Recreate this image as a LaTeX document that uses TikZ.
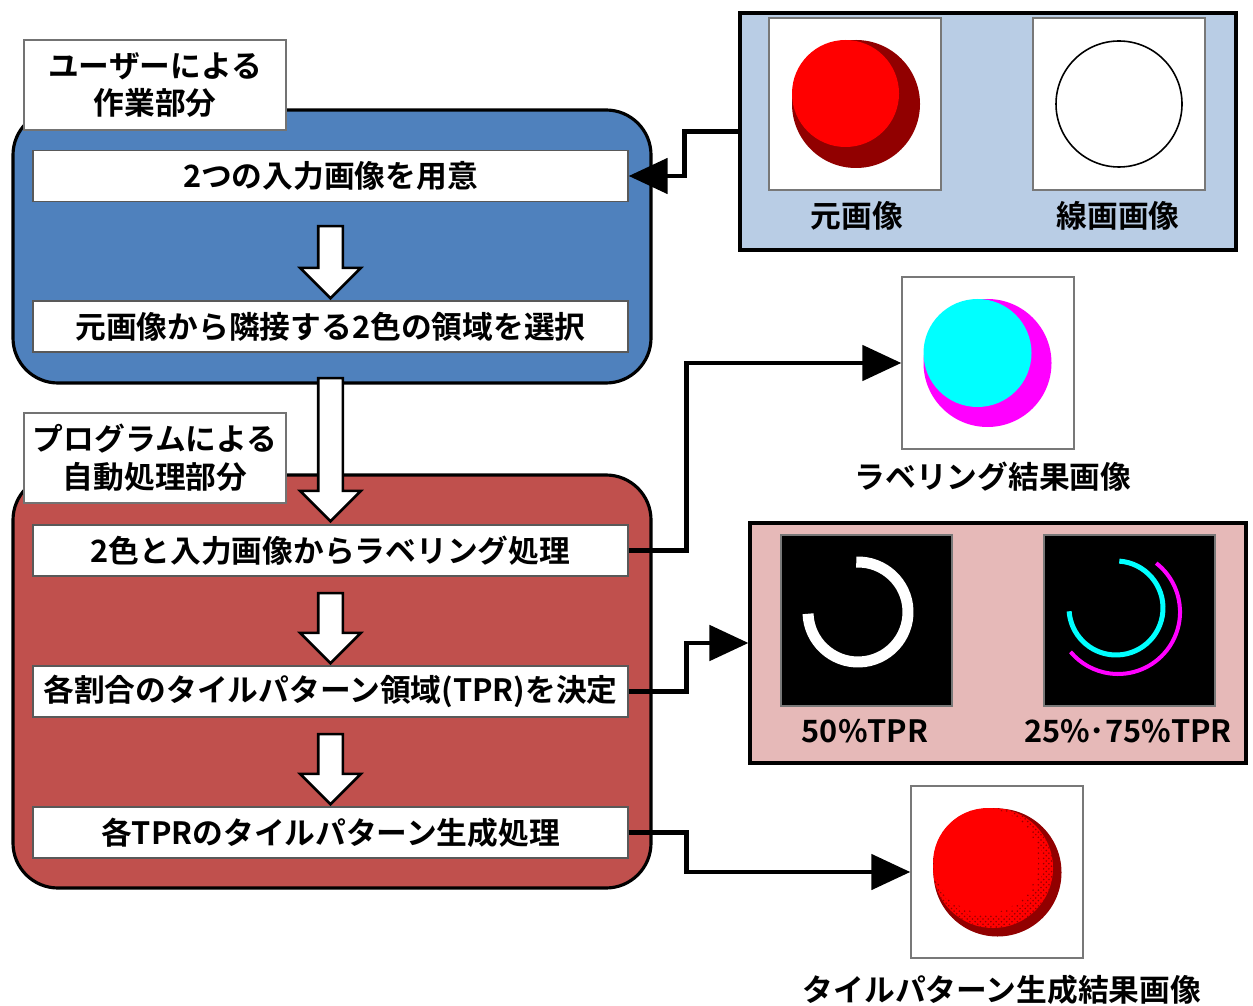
\documentclass[tikz,border=0pt]{standalone}
\usepackage{fontspec}
\setmainfont{Noto Sans CJK JP}[BoldFont={Noto Sans CJK JP Bold}]
\usepackage{xcolor}
\usetikzlibrary{arrows.meta,shapes.arrows,patterns}
\definecolor{userblue}{RGB}{79,129,189}
\definecolor{progred}{RGB}{192,80,77}
\definecolor{panelblue}{RGB}{185,205,229}
\definecolor{panelpink}{RGB}{230,185,184}
\definecolor{imgred}{RGB}{255,0,0}
\definecolor{imgdark}{RGB}{145,0,0}
\definecolor{imgcyan}{RGB}{0,255,255}
\definecolor{imgmagenta}{RGB}{255,0,255}
\definecolor{framegray}{RGB}{120,120,120}
\tikzset{
  jptext/.style={font=\bfseries\fontsize{17.5}{21.5}\selectfont},
  zone/.style={draw=black, line width=1.8pt, rounded corners=0.9cm},
  tagbox/.style={rectangle, draw=black!55, fill=white, line width=0.6pt, minimum width=5.24cm, minimum height=1.8cm, inner sep=0pt, align=center, jptext},
  procbox/.style={rectangle, draw=black!65, fill=white, line width=0.8pt, minimum width=11.9cm, minimum height=1.02cm, inner sep=0pt, jptext},
  downarrow/.style={single arrow, draw=black, fill=white, line width=1.5pt, rotate=-90, inner sep=0.22cm, single arrow head extend=0.36cm, minimum height=#1},
  panel/.style={rectangle, draw=black, line width=1.8pt, inner sep=0pt},
  imgframe/.style={rectangle, draw=framegray, fill=white, line width=0.8pt, minimum size=3.44cm, inner sep=0pt},
  darkframe/.style={rectangle, draw=framegray, fill=black, line width=0.8pt, minimum size=3.42cm, inner sep=0pt},
  caption/.style={jptext},
  flow/.style={line width=2.8pt, -{Triangle[length=0.78cm,width=0.7cm]}}
}

\begin{document}
\begin{tikzpicture}[x=0.02cm, y=0.02cm]
  \useasboundingbox (0,0) rectangle (1253,-1006);

  % user part
  \draw[zone, fill=userblue] (13,-110) rectangle (651,-383);
  \node[tagbox] (usertag) at (155,-85) {ユーザーによる\\作業部分};
  \node[procbox] (p1) at (330.5,-176) {2つの入力画像を用意};
  \node[procbox] (p2) at (330.5,-326.5) {元画像から隣接する2色の領域を選択};
  \node[downarrow=1.44cm] (a1) at (330.5,-256) {};

  % program part
  \draw[zone, fill=progred] (13,-475) rectangle (651,-888);
  \node[tagbox] (progtag) at (155,-458) {プログラムによる\\自動処理部分};
  \node[downarrow=2.86cm] (a0) at (330.5,-443.5) {};
  \node[procbox] (p3) at (330.5,-550.5) {2色と入力画像からラベリング処理};
  \node[procbox] (p4) at (330.5,-691.5) {各割合のタイルパターン領域(TPR)を決定};
  \node[procbox] (p5) at (330.5,-832.5) {各TPRのタイルパターン生成処理};
  \node[downarrow=1.4cm] (a2) at (330.5,-622) {};
  \node[downarrow=1.4cm] (a3) at (330.5,-763) {};

  % input images
  \node[panel, fill=panelblue, minimum width=9.92cm, minimum height=4.74cm] (inpanel) at (988,-131.5) {};
  \node[imgframe] (orig) at (855,-104) {};
  \fill[imgdark] (856,-104) circle[radius=64];
  \fill[imgred] (845.5,-93.5) circle[radius=53.5];
  \node[imgframe] (lineimg) at (1119,-104) {};
  \draw[line width=0.9pt] (1119,-104) circle[radius=63];
  \node[caption] (origcap) at (857,-216) {元画像};
  \node[caption] (linecap) at (1118,-216) {線画画像};

  % labeling result
  \node[imgframe] (lab) at (988,-363) {};
  \fill[imgmagenta] (987.5,-363) circle[radius=64];
  \fill[imgcyan] (977.5,-353) circle[radius=54];
  \node[caption] (labcap) at (993,-477) {ラベリング結果画像};

  % tile pattern regions
  \node[panel, fill=panelpink, minimum width=9.92cm, minimum height=4.8cm] (tprpanel) at (998,-643) {};
  \node[darkframe] (tpr50) at (866.5,-620.5) {};
  \draw[white, line width=0.22cm] (858,-612) ++(92:50) arc[start angle=92, end angle=-178, radius=50];
  \node[darkframe] (tpr2575) at (1129.5,-620.5) {};
  \draw[imgcyan, line width=0.1cm] (1116,-608) ++(86:47) arc[start angle=86, end angle=-176, radius=47];
  \draw[imgmagenta, line width=0.08cm] (1118,-612) ++(52:62) arc[start angle=52, end angle=-140, radius=62];
  \node[caption] (cap50) at (865,-731) {50\%TPR};
  \node[caption] (cap2575) at (1128,-731) {25\%･75\%TPR};

  % tile pattern result
  \node[imgframe] (tile) at (997,-872) {};
  \fill[imgdark] (997.5,-872.5) circle[radius=64];
  \fill[imgred] (993,-868) circle[radius=60];
  \fill[pattern=crosshatch dots, pattern color=imgdark] (993,-868) circle[radius=60];
  \fill[imgred] (988,-863) circle[radius=55];
  \fill[pattern=dots, pattern color=imgdark] (988,-863) circle[radius=55];
  \fill[imgred] (986,-861) circle[radius=52];
  \node[caption] (tilecap) at (1002,-990) {タイルパターン生成結果画像};

  % connections
  \draw[flow] (inpanel.west) -- ++(-54,0) |- (p1.east);
  \draw[flow] (p3.east) -- ++(58,0) |- (lab.west);
  \draw[flow] (p4.east) -- ++(58,0) |- (tprpanel.west);
  \draw[flow] (p5.east) -- ++(58,0) |- (tile.west);
\end{tikzpicture}
\end{document}
